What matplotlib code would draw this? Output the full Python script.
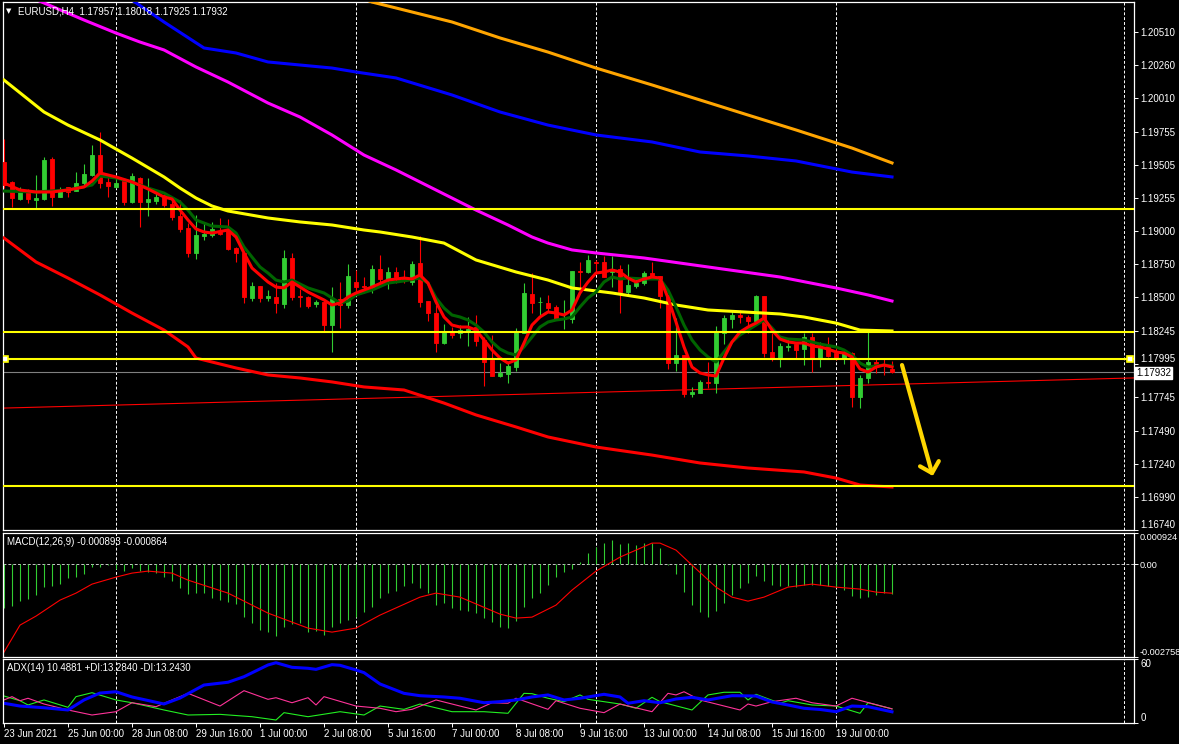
import numpy as np
import matplotlib.pyplot as plt

plt.rcParams['font.family'] = ['Liberation Sans', 'DejaVu Sans']

# ---- price data (EURUSD H4), bar index 0 = 23 Jun 16:00 ----
opens = np.array([
    1.19525, 1.19374, 1.19245, 1.19313, 1.19237, 1.19245, 1.19548, 1.19260, 1.19336, 1.19305,
    1.19366, 1.19427, 1.19578, 1.19374, 1.19336, 1.19381, 1.19222, 1.19404, 1.19222, 1.19230,
    1.19275, 1.19207, 1.19116, 1.19025, 1.18836, 1.18965, 1.18972, 1.18995, 1.19010, 1.18874,
    1.18836, 1.18495, 1.18586, 1.18495, 1.18502, 1.18449, 1.18798, 1.18510, 1.18502, 1.18449,
    1.18465, 1.18290, 1.18487, 1.18442, 1.18616, 1.18586, 1.18578, 1.18715, 1.18639, 1.18692,
    1.18654, 1.18616, 1.18760, 1.18472, 1.18381, 1.18154, 1.18245, 1.18230, 1.18245, 1.18275,
    1.18177, 1.18025, 1.17904, 1.17919, 1.17972, 1.18230, 1.18525, 1.18465, 1.18457, 1.18427,
    1.18336, 1.18336, 1.18699, 1.18692, 1.18768, 1.18768, 1.18692, 1.18715, 1.18540, 1.18586,
    1.18608, 1.18684, 1.18662, 1.18518, 1.18002, 1.18063, 1.17768, 1.17775, 1.17859, 1.17851,
    1.18230, 1.18336, 1.18366, 1.18351, 1.18321, 1.18510, 1.18086, 1.18040, 1.18124, 1.18146,
    1.18108, 1.18199, 1.18033, 1.18131, 1.18078, 1.18033, 1.18078, 1.17745, 1.17889, 1.18010,
    1.17995, 1.17957])
highs = np.array([
    1.19699, 1.19381, 1.19336, 1.19321, 1.19427, 1.19563, 1.19563, 1.19336, 1.19336, 1.19449,
    1.19510, 1.19654, 1.19752, 1.19412, 1.19419, 1.19389, 1.19442, 1.19412, 1.19404, 1.19290,
    1.19298, 1.19237, 1.19237, 1.19063, 1.19124, 1.19071, 1.19071, 1.19101, 1.19093, 1.18881,
    1.18836, 1.18616, 1.18586, 1.18555, 1.18608, 1.18859, 1.18836, 1.18563, 1.18510, 1.18480,
    1.18480, 1.18578, 1.18616, 1.18752, 1.18707, 1.18654, 1.18745, 1.18821, 1.18730, 1.18730,
    1.18707, 1.18775, 1.18965, 1.18472, 1.18442, 1.18298, 1.18275, 1.18290, 1.18351, 1.18366,
    1.18199, 1.18215, 1.18002, 1.18002, 1.18268, 1.18608, 1.18684, 1.18502, 1.18518, 1.18442,
    1.18480, 1.18699, 1.18768, 1.18821, 1.18783, 1.18813, 1.18813, 1.18745, 1.18752, 1.18646,
    1.18699, 1.18768, 1.18662, 1.18518, 1.18343, 1.18063, 1.17821, 1.17874, 1.18010, 1.18283,
    1.18366, 1.18404, 1.18404, 1.18366, 1.18518, 1.18510, 1.18230, 1.18154, 1.18184, 1.18154,
    1.18230, 1.18230, 1.18162, 1.18199, 1.18131, 1.18101, 1.18086, 1.17912, 1.18260, 1.18040,
    1.18033, 1.18018])
lows = np.array([
    1.19328, 1.19184, 1.19237, 1.19214, 1.19177, 1.19237, 1.19192, 1.19260, 1.19260, 1.19305,
    1.19351, 1.19419, 1.19328, 1.19260, 1.19328, 1.19199, 1.19214, 1.19033, 1.19116, 1.19207,
    1.19184, 1.19086, 1.18995, 1.18805, 1.18790, 1.18934, 1.18957, 1.18972, 1.18859, 1.18768,
    1.18457, 1.18472, 1.18465, 1.18472, 1.18381, 1.18419, 1.18480, 1.18427, 1.18419, 1.18427,
    1.18237, 1.18086, 1.18268, 1.18419, 1.18533, 1.18533, 1.18533, 1.18608, 1.18563, 1.18608,
    1.18608, 1.18593, 1.18427, 1.18321, 1.18086, 1.18146, 1.18192, 1.18192, 1.18131, 1.18131,
    1.17828, 1.17904, 1.17896, 1.17851, 1.17942, 1.18230, 1.18381, 1.18366, 1.18396, 1.18328,
    1.18260, 1.18305, 1.18571, 1.18684, 1.18684, 1.18654, 1.18578, 1.18381, 1.18518, 1.18571,
    1.18593, 1.18639, 1.18419, 1.17957, 1.17942, 1.17745, 1.17745, 1.17775, 1.17813, 1.17775,
    1.18146, 1.18268, 1.18305, 1.18230, 1.18313, 1.18048, 1.18018, 1.17972, 1.18093, 1.18033,
    1.17987, 1.17934, 1.17972, 1.18048, 1.18025, 1.17995, 1.17669, 1.17662, 1.17851, 1.17927,
    1.17912, 1.17925])
closes = np.array([
    1.19351, 1.19252, 1.19313, 1.19245, 1.19252, 1.19540, 1.19260, 1.19313, 1.19298, 1.19366,
    1.19434, 1.19578, 1.19366, 1.19343, 1.19366, 1.19222, 1.19419, 1.19222, 1.19245, 1.19260,
    1.19199, 1.19108, 1.19018, 1.18836, 1.18972, 1.18980, 1.19018, 1.18980, 1.18866, 1.18836,
    1.18502, 1.18586, 1.18495, 1.18510, 1.18457, 1.18798, 1.18502, 1.18502, 1.18434, 1.18465,
    1.18290, 1.18487, 1.18442, 1.18662, 1.18578, 1.18578, 1.18715, 1.18639, 1.18692, 1.18654,
    1.18624, 1.18752, 1.18465, 1.18381, 1.18154, 1.18245, 1.18215, 1.18252, 1.18260, 1.18169,
    1.18010, 1.17904, 1.17927, 1.17980, 1.18237, 1.18533, 1.18457, 1.18468, 1.18419, 1.18336,
    1.18343, 1.18699, 1.18692, 1.18783, 1.18760, 1.18654, 1.18715, 1.18540, 1.18593, 1.18608,
    1.18684, 1.18646, 1.18510, 1.18002, 1.18063, 1.17768, 1.17783, 1.17859, 1.17851, 1.18237,
    1.18343, 1.18366, 1.18351, 1.18321, 1.18510, 1.18078, 1.18040, 1.18131, 1.18131, 1.18101,
    1.18199, 1.18033, 1.18131, 1.18055, 1.18033, 1.18078, 1.17745, 1.17889, 1.18010, 1.17995,
    1.17987, 1.17932])
bars = np.arange(len(closes))

# fast MA (red) and slower MA (dark green) following price
fast_bars = [0, 2, 4, 6, 8, 10, 11, 12, 14, 16, 18, 20, 21, 22, 23, 24, 25, 26, 28, 29, 30, 31, 32, 33, 34, 35, 36,
             38, 39, 40, 41, 42, 43, 44, 46, 48, 50, 51, 52, 53, 54, 55, 56, 57, 58, 59, 60, 61, 62, 63, 64, 65, 66,
             67, 68, 69, 70, 71, 72, 73, 74, 75, 76, 77, 78, 79, 80, 81, 82, 83, 84, 85, 86, 87, 88, 89, 90, 91, 92,
             93, 94, 95, 96, 97, 98, 99, 100, 101, 102, 103, 104, 105, 106, 107, 108, 109, 110, 111]
fast_ma = [1.19366, 1.19313, 1.19298, 1.19298, 1.19313, 1.19336, 1.19381, 1.19442, 1.19412, 1.19374, 1.19321,
           1.19260, 1.19245, 1.19161, 1.19086, 1.19018, 1.18995, 1.18987, 1.19010, 1.18957, 1.18836, 1.18722,
           1.18669, 1.18616, 1.18578, 1.18571, 1.18616, 1.18540, 1.18510, 1.18480, 1.18442, 1.18457, 1.18502,
           1.18533, 1.18578, 1.18631, 1.18646, 1.18639, 1.18669, 1.18608, 1.18465, 1.18351, 1.18290, 1.18275,
           1.18275, 1.18252, 1.18177, 1.18101, 1.18040, 1.18002, 1.18025, 1.18154, 1.18290, 1.18351, 1.18389,
           1.18381, 1.18366, 1.18404, 1.18533, 1.18616, 1.18684, 1.18692, 1.18707, 1.18692, 1.18646, 1.18616,
           1.18639, 1.18654, 1.18646, 1.18495, 1.18313, 1.18124, 1.17972, 1.17927, 1.17912, 1.17904, 1.18040,
           1.18162, 1.18237, 1.18275, 1.18305, 1.18343, 1.18252, 1.18184, 1.18162, 1.18154, 1.18154, 1.18131,
           1.18124, 1.18108, 1.18086, 1.18078, 1.18048, 1.17957, 1.17934, 1.17972, 1.17987, 1.17972]
slow_bars = [0, 4, 8, 11, 12, 14, 16, 18, 20, 22, 23, 24, 26, 28, 29, 30, 31, 32, 33, 34, 35, 36, 38, 40, 41, 42,
             43, 44, 46, 48, 50, 52, 53, 54, 55, 56, 57, 58, 59, 60, 61, 62, 63, 64, 65, 66, 67, 68, 69, 70, 71, 72,
             73, 74, 75, 76, 77, 78, 80, 82, 83, 84, 85, 86, 87, 88, 89, 90, 91, 92, 93, 94, 95, 96, 97, 98, 100,
             102, 104, 105, 106, 107, 108, 109, 110, 111]
slow_ma = [1.19305, 1.19298, 1.19313, 1.19351, 1.19419, 1.19404, 1.19374, 1.19328, 1.19290, 1.19222, 1.19161,
           1.19086, 1.19040, 1.19033, 1.18987, 1.18881, 1.18805, 1.18730, 1.18684, 1.18631, 1.18616, 1.18631,
           1.18571, 1.18533, 1.18495, 1.18457, 1.18472, 1.18518, 1.18555, 1.18608, 1.18624, 1.18646, 1.18608,
           1.18495, 1.18419, 1.18366, 1.18351, 1.18328, 1.18290, 1.18237, 1.18162, 1.18108, 1.18078, 1.18063,
           1.18124, 1.18199, 1.18275, 1.18313, 1.18328, 1.18336, 1.18351, 1.18427, 1.18495, 1.18540, 1.18616,
           1.18654, 1.18639, 1.18646, 1.18639, 1.18639, 1.18555, 1.18427, 1.18290, 1.18177, 1.18101, 1.18048,
           1.18010, 1.18086, 1.18162, 1.18215, 1.18252, 1.18290, 1.18328, 1.18268, 1.18199, 1.18184, 1.18177,
           1.18146, 1.18124, 1.18101, 1.18063, 1.18002, 1.17972, 1.17980, 1.17987, 1.17980]

# long moving averages (sampled along the curve)
yellow_bars = [0, 5, 8, 12, 16, 20, 22, 24, 26, 28, 33, 37, 41, 45, 47, 51, 55, 59, 64, 68, 71, 76, 80, 84, 88, 97,
               100, 104, 107, 111]
yellow_ma = [1.20146, 1.19904, 1.19805, 1.19692, 1.19555, 1.19412, 1.19328, 1.19252, 1.19192, 1.19154, 1.19101,
             1.19071, 1.19048, 1.19010, 1.18995, 1.18957, 1.18911, 1.18783, 1.18692, 1.18631, 1.18571, 1.18533,
             1.18495, 1.18442, 1.18404, 1.18374, 1.18351, 1.18305, 1.18252, 1.18245]
magenta_bars = [0, 10, 14, 17, 20, 24, 28, 33, 37, 41, 45, 49, 54, 59, 63, 66, 68, 71, 74, 80, 88, 97, 104, 108, 111]
magenta_ma = [1.20859, 1.20601, 1.20502, 1.20434, 1.20374, 1.20245, 1.20131, 1.19972, 1.19866, 1.19730, 1.19578,
              1.19465, 1.19313, 1.19161, 1.19048, 1.18957, 1.18911, 1.18859, 1.18836, 1.18798, 1.18730, 1.18654,
              1.18571, 1.18518, 1.18472]
blue_bars = [12, 16, 20, 25, 29, 33, 37, 41, 44, 49, 56, 62, 68, 74, 81, 87, 93, 99, 106, 111]
blue_ma = [1.20919, 1.20752, 1.20586, 1.20389, 1.20351, 1.20283, 1.20260, 1.20237, 1.20207, 1.20162, 1.20033,
           1.19904, 1.19805, 1.19730, 1.19677, 1.19601, 1.19571, 1.19533, 1.19449, 1.19412]
orange_bars = [42, 46, 49, 56, 62, 68, 74, 81, 87, 93, 99, 106, 111]
orange_ma = [1.20828, 1.20737, 1.20692, 1.20586, 1.20465, 1.20358, 1.20237, 1.20109, 1.19995, 1.19881, 1.19768,
             1.19631, 1.19518]
lowred_bars = [0, 4, 8, 12, 16, 20, 23, 24, 29, 33, 37, 41, 45, 50, 55, 59, 64, 68, 74, 81, 87, 93, 100, 104, 107, 111]
lowred_ma = [1.18949, 1.18768, 1.18646, 1.18518, 1.18381, 1.18252, 1.18124, 1.18040, 1.17965, 1.17912, 1.17889,
             1.17859, 1.17821, 1.17798, 1.17699, 1.17609, 1.17518, 1.17442, 1.17366, 1.17305, 1.17245, 1.17207,
             1.17177, 1.17131, 1.17078, 1.17063]

# drawn objects
levels = [1.19169, 1.18240, 1.18033, 1.17073]
trend_pts = [(47, 1.17737), (141, 1.17889)]
last_price = 1.17932
arrow_from = (112.25, 1.17987)
arrow_to = (116.1, 1.17147)
price_ticks = [1.20510, 1.20260, 1.20010, 1.19755, 1.19505, 1.19255, 1.19000, 1.18750,
               1.18500, 1.18245, 1.17995, 1.17745, 1.17490, 1.17240, 1.16990, 1.16740]

# ---- MACD(12,26,9) ----
macd_hist = [
    -0.001307, -0.001247, -0.001090, -0.001039, -0.000921, -0.000683, -0.000653, -0.000594, -0.000416, -0.000386,
    -0.000297, -0.000089, -0.000089, -0.000030, -0.000148, -0.000208, -0.000119, -0.000208, -0.000238, -0.000267,
    -0.000386, -0.000505, -0.000713, -0.000891, -0.000861, -0.000861, -0.001010, -0.001069, -0.001128, -0.001188,
    -0.001574, -0.001752, -0.001960, -0.002019, -0.002138, -0.001871, -0.001782, -0.001752, -0.002019, -0.001989,
    -0.002108, -0.001871, -0.001752, -0.001663, -0.001574, -0.001425, -0.001277, -0.001010, -0.000861, -0.000802,
    -0.000653, -0.000564, -0.000713, -0.000861, -0.001217, -0.001158, -0.001307, -0.001366, -0.001396, -0.001455,
    -0.001603, -0.001722, -0.001871, -0.001900, -0.001693, -0.001277, -0.001010, -0.000861, -0.000624, -0.000386,
    -0.000238, -0.000148, 0.000059, 0.000336, 0.000514, 0.000624, 0.000713, 0.000594, 0.000624, 0.000564,
    0.000624, 0.000624, 0.000475, -0.000020, -0.000306, -0.000823, -0.001217, -0.001416, -0.001583, -0.001387,
    -0.001149, -0.000921, -0.000722, -0.000573, -0.000356, -0.000496, -0.000624, -0.000653, -0.000653, -0.000674,
    -0.000624, -0.000624, -0.000624, -0.000653, -0.000692, -0.000772, -0.000941, -0.001001, -0.000971, -0.000921,
    -0.000852, -0.000893]
signal_bars = [0, 2, 4, 7, 9, 11, 14, 16, 18, 21, 23, 28, 33, 38, 41, 44, 47, 52, 54, 57, 62, 64, 66, 69, 71, 74,
               77, 81, 82, 84, 86, 89, 91, 93, 95, 98, 101, 104, 107, 109, 111]
signal = [-0.002613, -0.001811, -0.001544, -0.001069, -0.000861, -0.000594, -0.000386, -0.000267, -0.000208,
          -0.000267, -0.000475, -0.000861, -0.001455, -0.001900, -0.002019, -0.001900, -0.001514, -0.000980,
          -0.000861, -0.000980, -0.001485, -0.001603, -0.001574, -0.001217, -0.000772, -0.000208, 0.000208,
          0.000624, 0.000624, 0.000416, -0.000030, -0.000683, -0.000980, -0.001099, -0.000980, -0.000683,
          -0.000594, -0.000683, -0.000742, -0.000831, -0.000864]

# ---- ADX(14) ----
adx_bars = [0, 2, 5, 8, 10, 12, 14, 16, 18, 20, 22, 25, 28, 30, 33, 34, 36, 38, 39, 41, 42, 44, 45, 47, 50, 52,
            55, 57, 60, 62, 64, 66, 68, 70, 72, 75, 77, 78, 80, 82, 84, 86, 88, 91, 94, 96, 98, 100, 102, 104,
            106, 108, 111]
adx = [18.5, 15.9, 14.3, 12.2, 21.6, 28.1, 29.3, 24.4, 21.1, 17.8, 23.4, 35.6, 38.2, 43.4, 54.4, 56.5, 52.2,
       51.3, 50.3, 54.7, 54.1, 49.7, 47.2, 36.6, 27.8, 25.6, 24.4, 23.2, 19.0, 20.0, 21.6, 24.4, 26.3, 21.6,
       23.2, 26.9, 24.4, 18.5, 20.9, 19.0, 22.5, 24.1, 21.6, 25.6, 25.3, 19.7, 16.9, 13.8, 12.7, 10.6, 15.9,
       15.3, 10.49]
pdi_bars = [0, 2, 3, 5, 8, 9, 11, 14, 16, 20, 23, 27, 31, 34, 35, 38, 42, 45, 47, 50, 52, 56, 60, 63, 65, 66,
            68, 70, 72, 73, 77, 79, 81, 82, 86, 88, 90, 92, 93, 94, 97, 98, 101, 104, 107, 108, 111]
plus_di = [25.3, 20.9, 16.9, 21.6, 14.7, 24.7, 28.4, 21.6, 19.0, 12.2, 7.5, 8.1, 5.9, 2.8, 9.7, 5.9, 10.6, 7.5,
           15.9, 12.8, 17.8, 10.6, 10.6, 9.1, 27.8, 27.5, 23.2, 20.0, 26.3, 22.2, 17.8, 13.8, 24.1, 20.0, 12.2,
           26.3, 28.8, 28.8, 21.6, 26.9, 18.5, 20.9, 16.9, 15.9, 9.1, 19.0, 13.28]
mdi_bars = [0, 1, 2, 3, 5, 8, 11, 14, 16, 19, 20, 23, 27, 30, 33, 34, 36, 38, 39, 40, 44, 47, 49, 51, 54, 57,
            59, 61, 63, 64, 68, 69, 72, 75, 77, 81, 83, 84, 85, 87, 92, 93, 94, 96, 99, 101, 104, 106, 111]
minus_di = [21.6, 24.7, 20.9, 23.2, 17.8, 12.2, 7.5, 10.6, 19.0, 15.3, 18.5, 27.8, 15.9, 30.3, 22.2, 23.7, 19.0,
            23.7, 16.9, 24.7, 15.9, 13.8, 10.6, 12.8, 21.6, 15.9, 12.2, 19.0, 18.5, 23.2, 12.8, 20.9, 13.8, 9.7,
            17.8, 10.6, 27.8, 26.3, 29.3, 21.6, 12.2, 17.8, 15.9, 20.0, 23.2, 19.0, 15.9, 23.2, 13.24]

grid_bars = [14, 44, 74, 104, 140]
label_bars = [0, 8, 16, 24, 32, 40, 48, 56, 64, 72, 80, 88, 96, 104]
time_labels = ['23 Jun 2021', '25 Jun 00:00', '28 Jun 08:00', '29 Jun 16:00', '1 Jul 00:00', '2 Jul 08:00',
               '5 Jul 16:00', '7 Jul 00:00', '8 Jul 08:00', '9 Jul 16:00', '13 Jul 00:00', '14 Jul 08:00',
               '15 Jul 16:00', '19 Jul 00:00']

W, H = 1179, 744
fig = plt.figure(figsize=(W / 100, H / 100), dpi=100, facecolor='black')


def panel(top, bottom):
    a = fig.add_axes([3 / W, 1 - bottom / H, 1131 / W, (bottom - top) / H])
    a.set_facecolor('black')
    for s in a.spines.values():
        s.set_color('white')
        s.set_linewidth(0.9)
    a.set_xlim(-0.125, 141.25)
    a.yaxis.tick_right()
    a.tick_params(axis='y', colors='white', labelcolor='white', labelsize=7, length=3, width=0.7, pad=1.5)
    a.tick_params(axis='x', bottom=False, labelbottom=False)
    for g in grid_bars:
        a.axvline(g, color='white', lw=0.7, ls=(0, (3, 2)), zorder=1)
    return a


ax = panel(2, 530)
ax_macd = panel(533, 657)
ax_adx = panel(659, 723)

# ---- main chart ----
ax.set_ylim(1.167373, 1.207373)
ax.set_yticks(price_ticks)
ax.set_yticklabels(['%.5f' % p for p in price_ticks])
tl = ax.get_yticklabels()
tl[-1].set_va('bottom')
tl[10].set_va('bottom')

for lv in levels:
    ax.axhline(lv, color='#ffff00', lw=1.5, zorder=6)
ax.plot([0.1, 140.75], [levels[2], levels[2]], ls='none', marker='s', ms=4, mfc='white', mec='#ffff00', mew=1.2, zorder=7)
ax.axhline(last_price, color='#808080', lw=0.8, zorder=2)
ax.axline(trend_pts[0], trend_pts[1], color='#ff0000', lw=0.8, zorder=2)

col = np.where(closes >= opens, '#32cd32', '#ff0000')
ax.vlines(bars, lows, highs, colors=col, lw=0.8, zorder=3)
ax.bar(bars, np.abs(closes - opens), bottom=np.minimum(opens, closes), width=0.6,
       color=col, edgecolor=col, lw=0.6, zorder=3)

ax.plot(orange_bars, orange_ma, color='#ffa500', lw=2.2, zorder=4)
ax.plot(blue_bars, blue_ma, color='#0000ff', lw=2.2, zorder=4)
ax.plot(magenta_bars, magenta_ma, color='#ff00ff', lw=2.2, zorder=4)
ax.plot(yellow_bars, yellow_ma, color='#ffff00', lw=2.2, zorder=4)
ax.plot(lowred_bars, lowred_ma, color='#ff0000', lw=2.2, zorder=4)
ax.plot(slow_bars, slow_ma, color='#006400', lw=2.2, zorder=5)
ax.plot(fast_bars, fast_ma, color='#ff0000', lw=2.2, zorder=5)

ax.annotate('', xy=arrow_to, xytext=arrow_from,
            arrowprops=dict(arrowstyle='->,head_length=0.7,head_width=0.7', color='#ffd700', lw=3,
                            shrinkA=0, shrinkB=0), zorder=8)
ax.annotate('%.5f' % last_price, xy=(1, last_price), xycoords=('axes fraction', 'data'),
            xytext=(1.5, -0.5), textcoords='offset points', ha='left', va='center', fontsize=7, color='black',
            bbox=dict(boxstyle='square,pad=0.12', fc='white', ec='white'), annotation_clip=False, zorder=9)

fig.text(6 / W, 1 - 11 / H, '\u25bc', fontsize=5, color='white', va='center', family='DejaVu Sans')
fig.text(18 / W, 1 - 11 / H, 'EURUSD,H4  1.17957 1.18018 1.17925 1.17932', fontsize=7, color='white', va='center')

# ---- MACD panel ----
ax_macd.set_ylim(-0.002758, 0.000924)
ax_macd.axhline(0, color='#c8c8c8', lw=0.7, ls=(0, (3, 2)))
ax_macd.vlines(bars, 0, macd_hist, colors='#32cd32', lw=0.8)
ax_macd.plot(signal_bars, signal, color='#ff0000', lw=0.8)
ax_macd.set_yticks([0.000924, 0.0, -0.002758])
ax_macd.set_yticklabels(['0.000924', '0.00', '-0.002758'])
ax_macd.tick_params(axis='y', labelsize=6.6, pad=1)
tl = ax_macd.get_yticklabels()
tl[0].set_va('top')
tl[2].set_va('bottom')
fig.text(7 / W, 1 - 542 / H, 'MACD(12,26,9) -0.000893 -0.000864', fontsize=7, color='white', va='center')

# ---- ADX panel ----
ax_adx.set_ylim(0, 60)
ax_adx.plot(pdi_bars, plus_di, color='#22ee22', lw=0.8)
ax_adx.plot(mdi_bars, minus_di, color='#ff3399', lw=0.8)
ax_adx.plot(adx_bars, adx, color='#0000ff', lw=2.2)
ax_adx.set_yticks([60, 0])
ax_adx.set_yticklabels(['60', '0'])
tl = ax_adx.get_yticklabels()
tl[0].set_va('top')
tl[1].set_va('bottom')
fig.text(7 / W, 1 - 668 / H, 'ADX(14) 10.4881 +DI:13.2840 -DI:13.2430', fontsize=7, color='white', va='center')

ax_adx.set_xticks(label_bars)
ax_adx.set_xticklabels(time_labels, ha='left')
ax_adx.tick_params(axis='x', bottom=True, labelbottom=True, colors='white', labelcolor='white',
                   labelsize=7, length=3, width=0.7, pad=1.5)

fig.savefig('out.png', dpi=100, facecolor='black')
